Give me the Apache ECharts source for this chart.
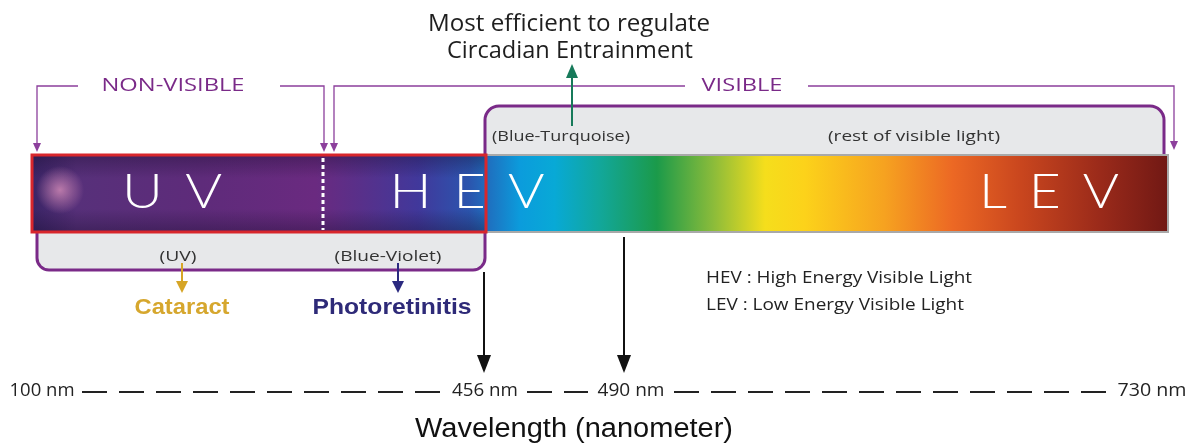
<!DOCTYPE html>
<html>
<head>
<meta charset="utf-8">
<script src="https://cdn.jsdelivr.net/npm/echarts@6/dist/echarts.min.js"></script>
<style>
  html, body { margin: 0; padding: 0; background: #fff; }
  #chart1 { width: 1188px; height: 447px; }
</style>
</head>
<body>
<div id="chart1"></div>
<script>
var titleLines = ['Most efficient to regulate', 'Circadian Entrainment'];
var regions = ['NON-VISIBLE', 'VISIBLE'];
var bands = ['UV', 'HEV', 'LEV'];
var upperNotes = ['(Blue-Turquoise)', '(rest of visible light)'];
var lowerNotes = ['(UV)', '(Blue-Violet)'];
var effects = ['Cataract', 'Photoretinitis'];
var wavelengthTicks = ['100 nm', '456 nm', '490 nm', '730 nm'];
var legendNotes = ['HEV : High Energy Visible Light', 'LEV : Low Energy Visible Light'];
var axisName = 'Wavelength (nanometer)';

var PURPLE = '#7a2a88';
var BRACKET = '#8c3f9c';
var SANS = '"Open Sans", "DejaVu Sans", sans-serif';
var ARIAL = '"Liberation Sans", Arial, sans-serif';
var THIN = '300 48px Lato, "Open Sans", sans-serif';

var ctx = document.createElement('canvas').getContext('2d');
function measure(s, font) {
    ctx.font = font;
    return ctx.measureText(s).width;
}

// small triangle head, pointing from (x1,y1) to (x2,y2)
function head(x1, y1, x2, y2, color, len, half) {
    var dx = x2 - x1, dy = y2 - y1;
    var d = Math.sqrt(dx * dx + dy * dy);
    var ux = dx / d, uy = dy / d;
    var bx = x2 - ux * len, by = y2 - uy * len;
    return {
        type: 'polygon',
        shape: { points: [[x2, y2], [bx - uy * half, by + ux * half], [bx + uy * half, by - ux * half]] },
        style: { fill: color }
    };
}

function arrow(x1, y1, x2, y2, color, w, len, half) {
    var dx = x2 - x1, dy = y2 - y1;
    var d = Math.sqrt(dx * dx + dy * dy);
    return [{
        type: 'line',
        shape: { x1: x1, y1: y1, x2: x2 - dx / d * len * 0.8, y2: y2 - dy / d * len * 0.8 },
        style: { stroke: color, lineWidth: w }
    }, head(x1, y1, x2, y2, color, len, half)];
}

// text centred at (cx, y), stretched horizontally to the given width
function fit(cx, y, s, font, color, w) {
    var sx = w ? w / measure(s, font) : 1;
    return {
        type: 'text', x: cx, y: y, scaleX: sx,
        style: { text: s, fill: color, font: font, align: 'center', verticalAlign: 'middle' }
    };
}

function bracket(points, color) {
    var n = points.length;
    var out = [{
        type: 'polyline',
        shape: { points: points.slice(0, n - 1).concat([[points[n - 1][0], points[n - 1][1] - 6]]) },
        style: { stroke: color, lineWidth: 1.3, fill: null }
    }];
    out.push(head(points[n - 2][0], points[n - 2][1], points[n - 1][0], points[n - 1][1], color, 9, 4));
    return out;
}

var spectrum = new echarts.graphic.LinearGradient(0, 0, 1, 0, [
    { offset: 0.00, color: '#3a2466' },
    { offset: 0.04, color: '#57307a' },
    { offset: 0.15, color: '#5e2b7a' },
    { offset: 0.25, color: '#6a2a80' },
    { offset: 0.29, color: '#58308a' },
    { offset: 0.34, color: '#41389b' },
    { offset: 0.385, color: '#2b55ae' },
    { offset: 0.43, color: '#0b9cdc' },
    { offset: 0.46, color: '#08a9d6' },
    { offset: 0.50, color: '#12a79a' },
    { offset: 0.55, color: '#1b9a4a' },
    { offset: 0.60, color: '#8cbc3a' },
    { offset: 0.645, color: '#f5de1c' },
    { offset: 0.68, color: '#fcd21a' },
    { offset: 0.75, color: '#f6a220' },
    { offset: 0.81, color: '#ec6824' },
    { offset: 0.87, color: '#c9461e' },
    { offset: 0.94, color: '#9a2a1a' },
    { offset: 1.00, color: '#701814' }
]);

var g = [];

// title
g.push(fit(569, 24, titleLines[0], '24px ' + SANS, '#1e1e1e', 282));
g.push(fit(570, 51, titleLines[1], '24px ' + SANS, '#1e1e1e', 246));

// grey label boxes
g.push({
    type: 'rect', shape: { x: 485, y: 106, width: 679, height: 57, r: [14, 14, 0, 0] },
    style: { fill: '#e7e8ea', stroke: PURPLE, lineWidth: 3 }
});
g.push({
    type: 'rect', shape: { x: 37, y: 222, width: 448, height: 48, r: [0, 0, 12, 12] },
    style: { fill: '#e7e8ea', stroke: PURPLE, lineWidth: 3 }
});

// spectrum band
g.push({
    type: 'rect', shape: { x: 32, y: 155, width: 1136, height: 77 },
    style: { fill: spectrum, stroke: '#a9a9a9', lineWidth: 2 }
});
// darker top/bottom edges in UV part
g.push({
    type: 'rect', shape: { x: 32, y: 155, width: 454, height: 77 },
    style: {
        fill: new echarts.graphic.LinearGradient(0, 0, 0, 1, [
            { offset: 0, color: 'rgba(20,10,40,0.35)' },
            { offset: 0.3, color: 'rgba(20,10,40,0)' },
            { offset: 0.7, color: 'rgba(20,10,40,0)' },
            { offset: 1, color: 'rgba(20,10,40,0.35)' }
        ])
    }
});
// pink glow at the far UV end
g.push({
    type: 'ellipse', shape: { cx: 60, cy: 190, rx: 60, ry: 24 },
    style: {
        fill: new echarts.graphic.RadialGradient(0.5, 0.5, 0.5, [
            { offset: 0, color: 'rgba(205,135,180,0.85)' },
            { offset: 1, color: 'rgba(205,135,180,0)' }
        ])
    }
});
// red frame round UV + blue-violet
g.push({
    type: 'rect', shape: { x: 32, y: 155, width: 454, height: 77 },
    style: { fill: null, stroke: '#d8262c', lineWidth: 3 }
});
// dotted separator UV / HEV
g.push({
    type: 'line', shape: { x1: 323, y1: 158, x2: 323, y2: 230 },
    style: { stroke: '#fff', lineWidth: 3, lineDash: [4, 3] }
});

// band names, letter spaced
var bandX = [172, 467, 1049], bandW = [100, 155, 140];
bands.forEach(function (b, i) {
    g.push(fit(bandX[i], 193, b.split('').join(' \u2009'), THIN, '#fff', bandW[i]));
});

// notes in the grey boxes
g.push(fit(561, 137, upperNotes[0], '14px ' + SANS, '#333', 138));
g.push(fit(914, 137, upperNotes[1], '14px ' + SANS, '#333', 172));
g.push(fit(178, 257, lowerNotes[0], '14px ' + SANS, '#333', 37));
g.push(fit(388, 257, lowerNotes[1], '14px ' + SANS, '#333', 107));

// region brackets
g.push(fit(173, 86, regions[0], '18px ' + SANS, PURPLE, 143));
g.push(fit(742, 86, regions[1], '18px ' + SANS, PURPLE, 81));
g = g.concat(bracket([[78, 86], [37, 86], [37, 152]], BRACKET));
g = g.concat(bracket([[280, 86], [324, 86], [324, 152]], BRACKET));
g = g.concat(bracket([[685, 86], [334, 86], [334, 152]], BRACKET));
g = g.concat(bracket([[808, 86], [1174, 86], [1174, 150]], BRACKET));

// green arrow to the title
g = g.concat(arrow(572, 126, 572, 64, '#177a5a', 2, 14, 6));

// effect arrows and labels
g = g.concat(arrow(182, 263, 182, 293, '#d6a526', 2, 12, 6));
g = g.concat(arrow(398, 263, 398, 293, '#2b2a80', 2, 12, 6));
g.push(fit(182, 308, effects[0], 'bold 22px ' + ARIAL, '#d6a72e', 95));
g.push(fit(392, 308, effects[1], 'bold 22px ' + ARIAL, '#2e2a78', 159));

// black arrows down to the wavelength row
g = g.concat(arrow(484, 272, 484, 373, '#111', 2, 18, 7));
g = g.concat(arrow(624, 237, 624, 373, '#111', 2, 18, 7));

// legend notes
g.push(fit(839, 278, legendNotes[0], '16px ' + SANS, '#222', 266));
g.push(fit(835, 305, legendNotes[1], '16px ' + SANS, '#222', 258));

// wavelength row
var tickX = [42, 485, 631, 1152], tickW = [65, 66, 67, 69];
wavelengthTicks.forEach(function (t, i) {
    g.push(fit(tickX[i], 391, t, '19px ' + SANS, '#222', tickW[i]));
});
var dashSeg = [[82, 440], [527, 588], [674, 1108]];
dashSeg.forEach(function (s) {
    g.push({
        type: 'line', shape: { x1: s[0], y1: 392, x2: s[1], y2: 392 },
        style: { stroke: '#222', lineWidth: 2, lineDash: [25, 12] }
    });
});
g.push(fit(574, 430, axisName, '27px ' + ARIAL, '#111', 318));

var myChart = echarts.init(document.getElementById('chart1'));
myChart.setOption({
    backgroundColor: '#fff',
    animation: false,
    graphic: { elements: g }
});
</script>
</body>
</html>
